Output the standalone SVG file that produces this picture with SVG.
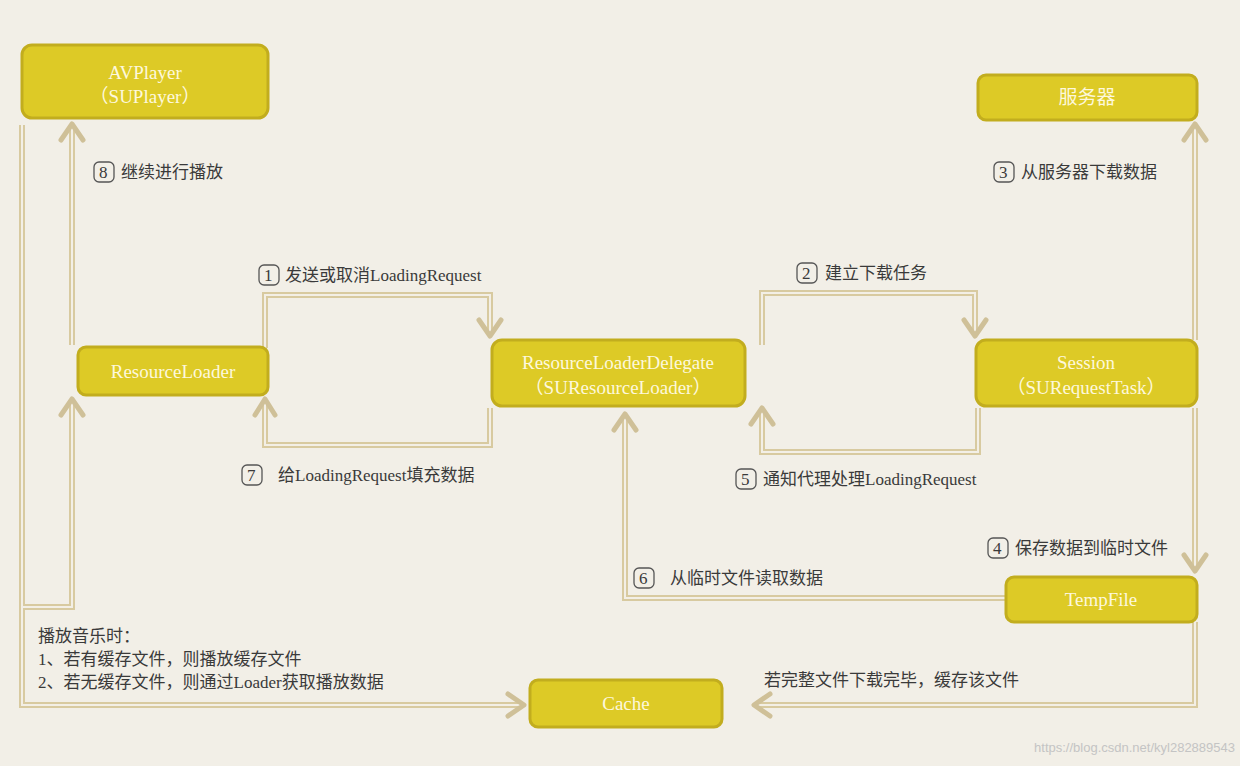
<svg xmlns="http://www.w3.org/2000/svg" width="1240" height="766" viewBox="0 0 1240 766">
<style>
.n rect{fill:#ddca26;stroke:#c2ad1e;stroke-width:3}
.n text{fill:#fdf8dc;font-family:"Liberation Serif","Noto Sans CJK SC",serif;font-size:19px;text-anchor:middle}
.o{fill:none;stroke:#d8caa0;stroke-width:6}
.i{fill:none;stroke:#f3efe6;stroke-width:2}
.a{fill:none;stroke:#cfc098;stroke-width:5;stroke-linecap:round;stroke-linejoin:round}
.t{fill:#3a3a3a;font-family:"Liberation Serif","Noto Sans CJK SC",serif;font-size:17px}
.c{fill:none;stroke:#555;stroke-width:1.3}
</style>
<rect width="1240" height="766" fill="#f2efe7"/>
<g id="connectors">
<g id="lines">
<path d="M22,125 V705 H522 M22,607 H72 V400 M72,345 V125 M265,348 V295 H490 V336 M490,408 V445 H265 V400 M762,345 V293 H975 V336 M978,408 V452 H762 V408 M1195,340 V125 M1195,408 V570 M1005,598 H625 V414 M1195,622 V705 H756" class="o"/>
<path d="M22,125 V705 H522 M22,607 H72 V400 M72,345 V125 M265,348 V295 H490 V336 M490,408 V445 H265 V400 M762,345 V293 H975 V336 M978,408 V452 H762 V408 M1195,340 V125 M1195,408 V570 M1005,598 H625 V414 M1195,622 V705 H756" class="i"/>
</g>
<g id="heads">
<path class="a" d="M61,140 L72,124 L83,140"/>
<path class="a" d="M61,415 L72,399 L83,415"/>
<path class="a" d="M255,415 L265,399 L275,415"/>
<path class="a" d="M479,320 L490,336 L501,320"/>
<path class="a" d="M964,320 L975,336 L986,320"/>
<path class="a" d="M751,424 L762,408 L773,424"/>
<path class="a" d="M614,430 L625,414 L636,430"/>
<path class="a" d="M1184,140 L1195,124 L1206,140"/>
<path class="a" d="M1184,555 L1195,571 L1206,555"/>
<path class="a" d="M508,694 L524,705 L508,716"/>
<path class="a" d="M770,694 L754,705 L770,716"/>
</g>
</g>
<g id="avplayer" class="n"><rect x="22" y="45" width="246" height="73" rx="10"/><text x="145" y="79">AVPlayer</text><text x="145" y="103">（SUPlayer）</text></g>
<g id="server" class="n"><rect x="978" y="75" width="219" height="45" rx="8"/><text x="1087" y="104">服务器</text></g>
<g id="resourceloader" class="n"><rect x="78" y="347" width="190" height="48" rx="8"/><text x="173" y="378">ResourceLoader</text></g>
<g id="delegate" class="n"><rect x="492" y="340" width="253" height="66" rx="10"/><text x="618" y="369">ResourceLoaderDelegate</text><text x="618" y="394">（SUResourceLoader）</text></g>
<g id="session" class="n"><rect x="976" y="340" width="221" height="66" rx="10"/><text x="1086" y="369">Session</text><text x="1086" y="394">（SURequestTask）</text></g>
<g id="tempfile" class="n"><rect x="1006" y="577" width="191" height="45" rx="8"/><text x="1101" y="606">TempFile</text></g>
<g id="cache" class="n"><rect x="530" y="680" width="192" height="47" rx="8"/><text x="626" y="710">Cache</text></g>
<g id="labels">
<rect class="c" x="94" y="162" width="20" height="20" rx="5"/><text class="t" x="99" y="178">8</text><text class="t" x="121" y="178">继续进行播放</text>
<rect class="c" x="994" y="162" width="20" height="20" rx="5"/><text class="t" x="999" y="178">3</text><text class="t" x="1021" y="178">从服务器下载数据</text>
<rect class="c" x="259" y="265" width="20" height="20" rx="5"/><text class="t" x="264" y="281">1</text><text class="t" x="285" y="281">发送或取消LoadingRequest</text>
<rect class="c" x="797" y="263" width="20" height="20" rx="5"/><text class="t" x="802" y="279">2</text><text class="t" x="825" y="279">建立下载任务</text>
<rect class="c" x="242" y="465" width="20" height="20" rx="5"/><text class="t" x="247" y="481">7</text><text class="t" x="278" y="481">给LoadingRequest填充数据</text>
<rect class="c" x="736" y="469" width="20" height="20" rx="5"/><text class="t" x="741" y="485">5</text><text class="t" x="763" y="485">通知代理处理LoadingRequest</text>
<rect class="c" x="988" y="538" width="20" height="20" rx="5"/><text class="t" x="993" y="554">4</text><text class="t" x="1015" y="554">保存数据到临时文件</text>
<rect class="c" x="634" y="568" width="20" height="20" rx="5"/><text class="t" x="639" y="584">6</text><text class="t" x="670" y="584">从临时文件读取数据</text>
<text class="t" x="38" y="642">播放音乐时：</text>
<text class="t" x="38" y="665">1、若有缓存文件，则播放缓存文件</text>
<text class="t" x="38" y="688">2、若无缓存文件，则通过Loader获取播放数据</text>
<text class="t" x="764" y="686">若完整文件下载完毕，缓存该文件</text>
<text x="1235" y="752" text-anchor="end" fill="#c4c4c4" font-family="Liberation Sans,sans-serif" font-size="13">https://blog.csdn.net/kyl282889543</text>
</g>
</svg>
